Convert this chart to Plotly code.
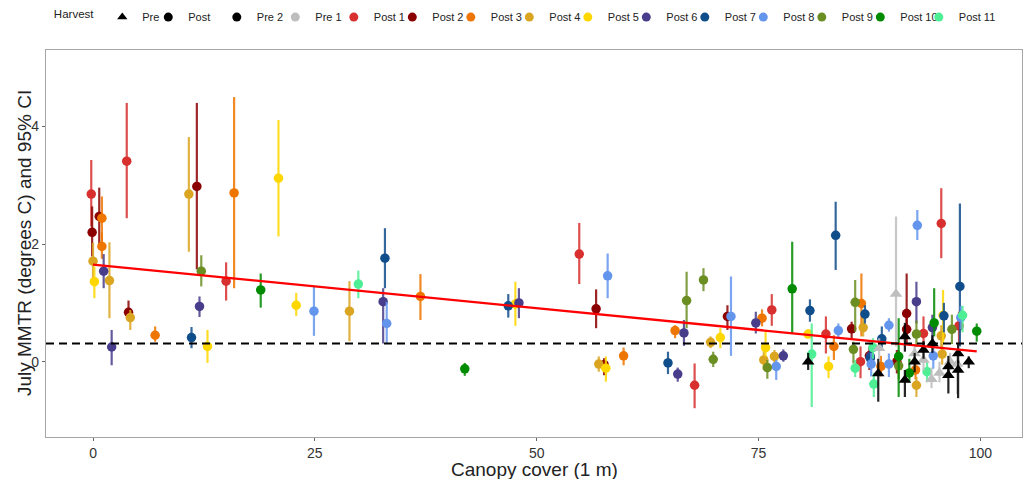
import plotly.graph_objects as go

# ---- data: (canopy cover %, July MMTR, CI low, CI high) ----
pre_2 = [(80.6, 0.00, -0.14, 0.15), (88.5, -0.20, -0.68, 0.05), (91.5, 0.43, 0.17, 0.66),
         (91.5, -0.31, -0.60, -0.14), (92.6, 0.00, -0.18, 0.15), (93.6, 0.20, 0.05, 0.35),
         (94.6, 0.31, 0.15, 0.45), (96.4, -0.08, -0.25, 0.10), (96.4, -0.23, -0.54, -0.05),
         (97.5, 0.14, -0.02, 0.30), (97.5, -0.14, -0.62, 0.02), (98.7, 0.00, -0.11, 0.09)]
pre_1 = [(88.6, 0.23, 0.05, 0.40), (90.5, 1.15, 0.26, 2.47), (92.6, 0.14, -0.05, 0.30),
         (93.6, 0.03, -0.15, 0.20), (94.5, -0.30, -0.45, -0.10), (95.4, -0.19, -0.35, 0.00),
         (96.6, 0.00, -0.15, 0.15), (97.4, -0.04, -0.55, 0.12)]
post_1 = [(-0.2, 2.85, 2.30, 3.43), (3.8, 3.41, 2.44, 4.40), (15.0, 1.37, 1.04, 1.69),
          (54.8, 1.83, 1.32, 2.36), (67.8, -0.40, -0.79, -0.03), (76.5, 0.88, 0.61, 1.15),
          (82.6, 0.47, 0.14, 0.77), (86.5, 0.00, -0.28, 0.26), (93.6, 0.48, 0.20, 0.77),
          (95.6, 2.35, 1.76, 2.95), (97.6, 0.61, 0.31, 0.85)]
post_2 = [(-0.1, 2.20, 1.79, 2.64), (0.7, 2.47, 1.96, 2.96), (4.0, 0.84, 0.71, 1.04),
          (11.7, 2.98, 1.57, 4.40), (56.7, 0.90, 0.57, 1.23), (57.6, -0.05, -0.23, 0.06),
          (71.5, 0.77, 0.54, 0.96), (85.5, 0.56, 0.40, 0.68), (87.5, 0.10, -0.14, 0.26),
          (90.6, 0.00, -0.20, 0.20), (91.7, 0.82, 0.43, 1.50), (91.7, 0.55, 0.30, 0.75)]
post_3 = [(1.0, 2.44, 2.00, 2.81), (1.0, 1.96, 1.75, 2.20), (7.0, 0.45, 0.34, 0.60),
          (15.9, 2.87, 1.25, 4.50), (36.9, 1.11, 0.71, 1.49), (59.8, 0.10, -0.06, 0.24),
          (65.6, 0.53, 0.40, 0.62), (75.4, 0.74, 0.60, 0.89), (83.5, 0.26, 0.03, 0.45),
          (86.6, 0.99, 0.43, 1.50), (88.8, -0.08, -0.25, 0.10), (92.7, -0.14, -0.30, 0.02)]
post_4 = [(0.0, 1.71, 1.40, 2.02), (1.85, 1.38, 0.74, 2.03), (4.2, 0.75, 0.54, 0.88),
          (10.8, 2.85, 1.87, 3.82), (28.9, 0.86, 0.35, 1.37), (57.0, -0.04, -0.17, 0.09),
          (69.6, 0.33, 0.23, 0.43), (75.6, 0.03, -0.14, 0.20), (76.8, 0.09, -0.02, 0.20),
          (86.8, 0.58, 0.43, 0.77), (92.8, -0.40, -0.60, -0.26), (95.6, 0.44, 0.25, 0.62),
          (95.7, 0.13, -0.05, 0.30)]
post_5 = [(0.15, 1.36, 1.08, 1.62), (12.9, 0.26, -0.02, 0.54), (20.9, 3.12, 2.13, 4.11),
          (22.9, 0.96, 0.78, 1.17), (47.6, 0.98, 0.61, 1.36), (57.8, -0.11, -0.34, 0.09),
          (70.7, 0.41, 0.23, 0.57), (75.8, 0.24, 0.09, 0.54), (80.6, 0.47, 0.40, 0.55),
          (82.9, -0.08, -0.28, 0.09), (95.8, 0.79, 0.31, 1.22)]
post_6 = [(1.2, 1.54, 1.25, 1.83), (2.1, 0.25, -0.06, 0.54), (12.0, 0.94, 0.76, 1.11),
          (32.7, 1.02, 0.31, 1.25), (48.0, 1.00, 0.74, 1.25), (65.9, -0.21, -0.34, -0.10),
          (66.6, 0.49, 0.27, 0.71), (74.7, 0.66, 0.48, 0.85), (77.8, 0.10, 0.00, 0.21),
          (87.6, 0.09, -0.10, 0.28), (92.8, 1.02, 0.65, 1.36), (94.6, 0.58, 0.35, 0.80)]
post_7 = [(11.1, 0.41, 0.23, 0.59), (32.9, 1.76, 1.25, 2.27), (46.8, 0.95, 0.75, 1.15),
          (64.8, -0.02, -0.21, 0.17), (80.8, 0.87, 0.68, 1.06), (83.7, 2.15, 1.56, 2.72),
          (87.0, 0.81, 0.65, 0.96), (87.6, 0.06, -0.10, 0.25), (88.9, 0.39, 0.20, 0.60),
          (95.9, 0.78, 0.50, 1.00), (97.7, 1.28, 0.26, 2.69)]
post_8 = [(24.9, 0.86, 0.44, 1.27), (33.1, 0.65, 0.31, 1.02), (58.0, 1.46, 1.08, 1.84),
          (71.9, 0.77, 0.10, 1.45), (77.0, -0.08, -0.31, 0.03), (84.0, 0.53, 0.40, 0.65),
          (87.7, -0.04, -0.25, 0.15), (89.7, 0.62, 0.51, 0.74), (89.7, -0.04, -0.26, 0.14),
          (92.9, 2.32, 2.07, 2.58), (94.7, 0.10, -0.12, 0.30), (97.8, 0.75, 0.55, 0.95)]
post_9 = [(12.2, 1.54, 1.28, 1.81), (66.9, 1.04, 0.57, 1.53), (68.8, 1.39, 1.20, 1.59),
          (69.9, 0.04, -0.09, 0.17), (76.0, -0.10, -0.29, 0.03), (85.7, 0.21, -0.03, 0.34),
          (85.9, 1.01, 0.51, 1.39), (90.8, -0.07, -0.30, 0.20), (92.8, 0.47, 0.25, 0.70),
          (96.8, 0.55, 0.30, 0.80)]
post_10 = [(18.9, 1.22, 0.92, 1.50), (41.9, -0.12, -0.24, -0.02), (78.8, 1.24, 0.48, 2.04),
           (90.8, 0.09, -0.60, 0.74), (92.0, -0.19, -0.35, 0.05), (94.8, 0.66, 0.43, 1.25),
           (99.6, 0.52, 0.34, 0.65)]
post_11 = [(29.9, 1.32, 1.08, 1.55), (81.0, 0.13, -0.77, 0.65), (85.9, -0.11, -0.26, 0.03),
           (87.9, 0.24, 0.05, 0.40), (88.0, -0.38, -0.60, -0.19), (94.0, -0.17, -0.35, 0.00),
           (98.0, 0.79, 0.50, 0.95)]

group_names = ["Pre 2", "Pre 1", "Post 1", "Post 2", "Post 3", "Post 4", "Post 5",
               "Post 6", "Post 7", "Post 8", "Post 9", "Post 10", "Post 11"]
group_data = [pre_2, pre_1, post_1, post_2, post_3, post_4, post_5,
              post_6, post_7, post_8, post_9, post_10, post_11]
group_colors = ["#000000", "#BEBEBE", "#D7302F", "#8B0000", "#EE7600", "#DAA520", "#FFD700",
                "#483D8B", "#104E8B", "#6495ED", "#6B8E23", "#008B00", "#4EEE94"]
harvest_labels = ["Pre", "Post"]

ref_line_y = 0.31
fit_intercept = 1.65
fit_slope = -0.0148

x_ticks = [0, 25, 50, 75, 100]
y_ticks = [0, 2, 4]
x_title = "Canopy cover (1 m)"
y_title = "July MMTR (degrees C) and 95% CI"

FONT = "Liberation Sans, Arial, sans-serif"


def rgba(hex_color, a):
    h = hex_color.lstrip("#")
    return f"rgba({int(h[0:2], 16)},{int(h[2:4], 16)},{int(h[4:6], 16)},{a})"


fig = go.Figure()

# draw post groups first, pre groups (triangles) on top
draw_order = list(range(2, len(group_names))) + [1, 0]
for gi in draw_order:
    name = group_names[gi]
    pts = group_data[gi]
    xs = [p[0] for p in pts]
    ys = [p[1] for p in pts]
    lo = [p[2] for p in pts]
    hi = [p[3] for p in pts]
    is_pre = name.startswith("Pre")
    fig.add_trace(go.Scatter(
        x=xs, y=ys, mode="markers", name=name, showlegend=False,
        marker=dict(color=group_colors[gi], size=11 if is_pre else 9.5,
                    symbol="triangle-up" if is_pre else "circle", line=dict(width=0)),
        error_y=dict(type="data", symmetric=False,
                     array=[h - y for h, y in zip(hi, ys)],
                     arrayminus=[y - l for y, l in zip(ys, lo)],
                     width=0, thickness=2.2, color=rgba(group_colors[gi], 0.85)),
    ))

# fitted regression line over the observed canopy range
all_x = [p[0] for g in group_data for p in g]
fx = [max(0, min(all_x)), max(all_x)]
fig.add_trace(go.Scatter(x=fx, y=[fit_intercept + fit_slope * v for v in fx], mode="lines",
                         line=dict(color="#FF0000", width=2.3), showlegend=False,
                         hoverinfo="skip"))

fig.add_hline(y=ref_line_y, line=dict(color="black", width=2, dash="8px,5px"), layer="above")

# legend entries: harvest shape
for i, (lab, sym) in enumerate(zip(harvest_labels, ["triangle-up", "circle"])):
    fig.add_trace(go.Scatter(x=[None], y=[None], mode="markers", name=lab, legend="legend",
                             legendwidth=(28 if i == len(harvest_labels) - 1 else 1),
                             marker=dict(color="black", size=9, symbol=sym)))
# legend entries: colour groups
for i, (name, col) in enumerate(zip(group_names, group_colors)):
    fig.add_trace(go.Scatter(x=[None], y=[None], mode="markers", name=name, legend="legend2",
                             legendwidth=(42 if i == len(group_names) - 1 else 13.5),
                             marker=dict(color=col, size=9, symbol="circle")))

axis_common = dict(showgrid=False, zeroline=False, showline=True, mirror=True,
                   linecolor="#A6A6A6", linewidth=1.2, ticks="outside", ticklen=3,
                   tickcolor="#666666", tickwidth=1,
                   tickfont=dict(family=FONT, size=14, color="#333333"))

fig.update_layout(
    width=1029, height=479,
    margin=dict(l=46, r=7, t=50, b=42, autoexpand=False),
    paper_bgcolor="white", plot_bgcolor="white",
    font=dict(family=FONT, color="#222222"),
    xaxis=dict(range=[-5.3, 104.7], tickvals=x_ticks, automargin=False, **axis_common),
    yaxis=dict(range=[-1.28, 5.3], tickvals=y_ticks, automargin=False, **axis_common),
    legend=dict(orientation="h", x=0.006, xanchor="left", y=1.085, yanchor="middle",
                title=dict(text="Harvest", font=dict(family=FONT, size=11.5, color="#222222")),
                font=dict(family=FONT, size=11, color="#222222"),
                bgcolor="rgba(0,0,0,0)"),
    legend2=dict(orientation="h", x=0.175, xanchor="left", y=1.085, yanchor="middle",
                 font=dict(family=FONT, size=11, color="#222222"),
                 bgcolor="rgba(0,0,0,0)"),
    annotations=[
        dict(text=x_title, xref="paper", yref="paper", x=0.5, y=-0.084,
             xanchor="center", yanchor="middle", showarrow=False,
             font=dict(family=FONT, size=19, color="#222222")),
        dict(text=y_title, xref="paper", yref="paper", x=-0.022, y=0.5, textangle=-90,
             xanchor="center", yanchor="middle", showarrow=False,
             font=dict(family=FONT, size=19, color="#222222")),
    ],
)

fig.write_html("out.html", config={"displayModeBar": False},
               post_script="document.body.style.margin='0px';")
